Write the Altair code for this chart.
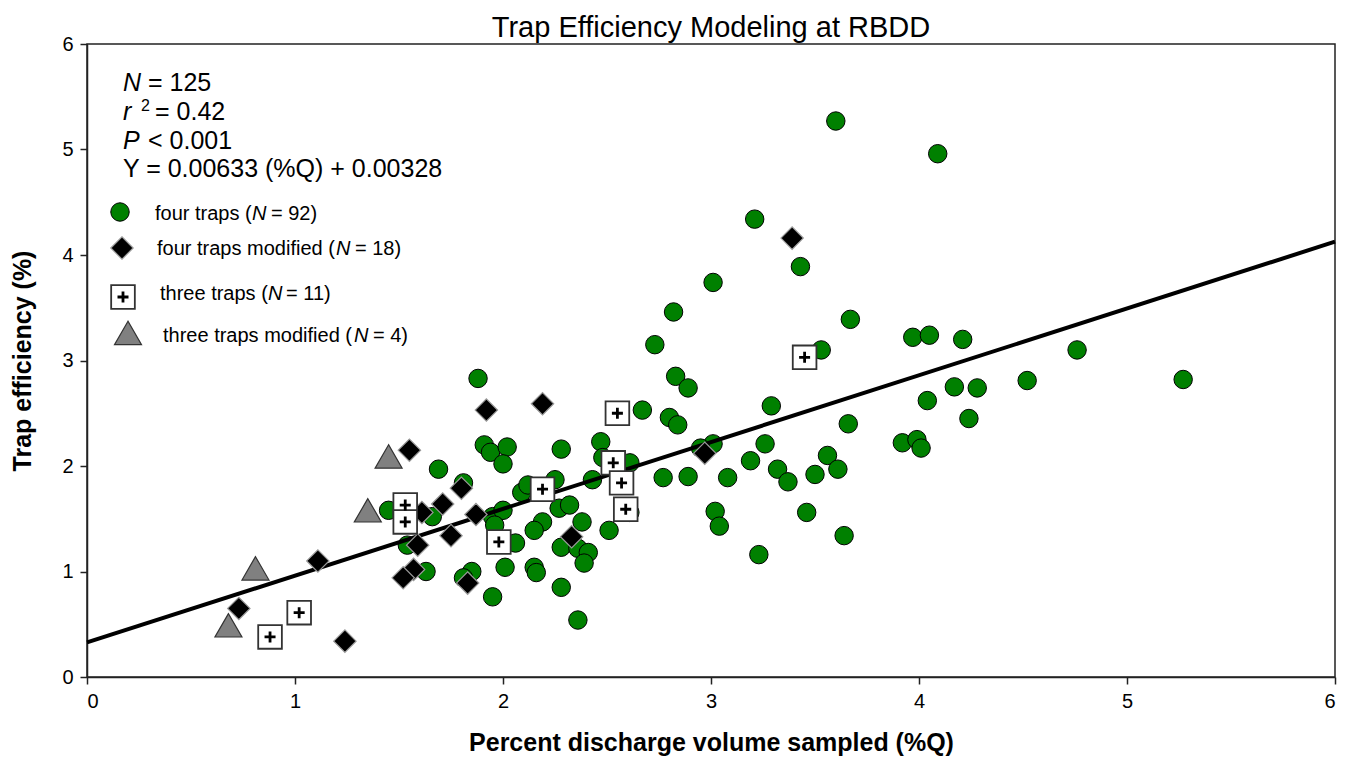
import altair as alt
import pandas as pd

FONT = "Liberation Sans"

# Percent discharge volume sampled (%Q) and trap efficiency (%) by configuration
four_x = [3.60, 4.09, 3.21, 3.43, 3.01, 2.82, 3.67, 2.73, 3.97, 4.05, 4.21, 3.53,
          2.83, 2.89, 2.67, 2.80, 2.84, 3.29, 4.17, 4.28, 4.04, 4.24, 3.66, 3.01,
          3.92, 3.99, 4.01, 3.26, 3.19, 3.32, 3.37, 3.56, 3.61, 3.50, 2.77, 2.89,
          3.08, 3.02, 3.04, 3.46, 3.64, 3.23, 4.76, 5.27, 4.52, 1.88, 1.91, 1.94,
          2.02, 2.00, 1.69, 1.81, 1.45, 1.66, 2.09, 2.12, 1.95, 2.00, 1.96, 2.28,
          2.47, 2.48, 2.61, 2.25, 2.43, 2.27, 2.32, 2.19, 2.15, 2.38, 2.51, 2.61,
          1.54, 1.63, 1.85, 1.81, 2.01, 2.06, 1.95, 2.28, 2.36, 2.41, 2.39, 2.15,
          2.16, 2.28, 2.36, 2.95]
four_y = [5.27, 4.96, 4.34, 3.89, 3.74, 3.46, 3.39, 3.15, 3.22, 3.24, 3.20, 3.10,
          2.85, 2.74, 2.53, 2.46, 2.39, 2.57, 2.75, 2.74, 2.62, 2.45, 2.40, 2.21,
          2.22, 2.25, 2.17, 2.21, 2.05, 1.97, 1.85, 2.10, 1.97, 1.92, 1.89, 1.90,
          1.89, 1.57, 1.43, 1.56, 1.34, 1.16, 3.10, 2.82, 2.81, 2.83, 2.20, 2.13,
          2.18, 2.02, 1.97, 1.84, 1.58, 1.52, 1.75, 1.82, 1.52, 1.58, 1.44, 2.16,
          2.23, 2.08, 2.03, 1.87, 1.87, 1.60, 1.63, 1.47, 1.39, 1.47, 1.39, 1.56,
          1.25, 1.00, 1.00, 0.94, 1.04, 1.27, 0.76, 1.23, 1.22, 1.18, 1.08, 1.04,
          0.99, 0.85, 0.54, 2.17]

four_mod_x = [0.73, 1.11, 1.24, 1.92, 2.19, 1.55, 1.80, 1.71, 1.61, 1.87, 1.75,
              1.59, 1.57, 1.52, 1.83, 2.33, 2.97, 3.39]
four_mod_y = [0.65, 1.10, 0.34, 2.53, 2.59, 2.15, 1.79, 1.64, 1.56, 1.54, 1.34,
              1.25, 1.02, 0.94, 0.89, 1.33, 2.12, 4.16]

three_x = [0.88, 1.02, 1.53, 1.53, 2.19, 1.98, 2.55, 2.53, 2.57, 2.59, 3.45]
three_y = [0.38, 0.61, 1.63, 1.47, 1.78, 1.28, 2.50, 2.03, 1.84, 1.59, 3.03]

three_mod_x = [0.68, 0.81, 1.35, 1.45]
three_mod_y = [0.49, 1.03, 1.58, 2.09]

# Fitted model, expressed as fractions: Y = 0.00633 (%Q) + 0.00328
SLOPE_FRAC = 0.00633
INTERCEPT_FRAC = 0.00328
fit_x = [0, 6]

four = pd.DataFrame({"q": four_x, "eff": four_y})
four_mod = pd.DataFrame({"q": four_mod_x, "eff": four_mod_y})
three = pd.DataFrame({"q": three_x, "eff": three_y})
three_mod = pd.DataFrame({"q": three_mod_x, "eff": three_mod_y})
# efficiency in percent: eff = 0.633 * q + 0.328
fit = pd.DataFrame({"q": fit_x,
                    "eff": [100 * SLOPE_FRAC * v + 100 * INTERCEPT_FRAC for v in fit_x]})

W, H = 1248, 633
ticks = [i * 0.5 for i in range(13)]
label_expr = "datum.value % 1 === 0 ? datum.label : ''"

xenc = alt.X("q:Q", scale=alt.Scale(domain=[0, 6], nice=False),
             axis=alt.Axis(values=ticks, labelExpr=label_expr, format="d",
                           title="Percent discharge volume sampled (%Q)",
                           titlePadding=19))
yenc = alt.Y("eff:Q", scale=alt.Scale(domain=[0, 6], nice=False),
             axis=alt.Axis(values=ticks, labelExpr=label_expr, format="d",
                           title="Trap efficiency (%)", titlePadding=26))

circles = alt.Chart(four).mark_point(
    shape="circle", filled=True, fill="#008000", stroke="black",
    strokeWidth=1, size=340, opacity=1
).encode(x=xenc, y=yenc)

line = alt.Chart(fit).mark_line(color="black", strokeWidth=4).encode(x="q:Q", y="eff:Q")

diamonds = alt.Chart(four_mod).mark_point(
    shape="diamond", filled=True, fill="black", stroke="#9a9a9a",
    strokeWidth=1.2, size=500, opacity=1
).encode(x="q:Q", y="eff:Q")

squares = alt.Chart(three).mark_point(
    shape="square", filled=True, fill="white", stroke="#333333",
    strokeWidth=1.8, size=560, opacity=1
).encode(x="q:Q", y="eff:Q")

PLUS = "M-1,0L1,0M0,-1L0,1"
plus = alt.Chart(three).mark_point(
    shape=PLUS, filled=False, stroke="black", strokeWidth=2.8, size=121, opacity=1
).encode(x="q:Q", y="eff:Q")

triangles = alt.Chart(three_mod).mark_point(
    shape="triangle-up", filled=True, fill="#808080", stroke="#333333",
    strokeWidth=1.2, size=729, opacity=1
).encode(x="q:Q", y="eff:Q")

one = pd.DataFrame({"k": [0]})


def text(txt, px, py, size, style="normal", weight="normal", align="left"):
    return alt.Chart(one).mark_text(
        text=txt, align=align, baseline="alphabetic", font=FONT,
        fontSize=size, fontStyle=style, fontWeight=weight, color="black"
    ).encode(x=alt.value(px), y=alt.value(py))


def symbol(px, py, **kw):
    return alt.Chart(one).mark_point(opacity=1, **kw).encode(
        x=alt.value(px), y=alt.value(py))


# Title above the plot
title = text("Trap Efficiency Modeling at RBDD", W / 2, -7, 29, align="center")

# Regression statistics
S = 25
stats = [
    text("N", 36, 47, S, "italic"),
    text("= 125", 61, 47, S),
    text("r", 36, 76, S, "italic"),
    text("2", 54, 67, 16),
    text("= 0.42", 68, 76, S),
    text("P", 36, 105, S, "italic"),
    text("< 0.001", 61, 105, S),
    text("Y = 0.00633 (%Q) + 0.00328", 36, 133, S),
]

# Legend
L = 20
legend = [
    symbol(33, 168, shape="circle", filled=True, fill="#008000", stroke="black",
           strokeWidth=1, size=340),
    text("four traps (", 68, 176, L),
    text("N", 165, 176, L, "italic"),
    text("= 92)", 184, 176, L),
    symbol(35, 204, shape="diamond", filled=True, fill="black", stroke="#9a9a9a",
           strokeWidth=1.2, size=500),
    text("four traps modified (", 70, 211, L),
    text("N", 249, 211, L, "italic"),
    text("= 18)", 268, 211, L),
    symbol(36, 253, shape="square", filled=True, fill="white", stroke="#333333",
           strokeWidth=1.8, size=560),
    symbol(36, 253, shape=PLUS, filled=False, stroke="black", strokeWidth=2.8, size=121),
    text("three traps (", 73, 256, L),
    text("N", 181, 256, L, "italic"),
    text("= 11)", 199, 256, L),
    symbol(41, 289, shape="triangle-up", filled=True, fill="#808080", stroke="#333333",
           strokeWidth=1.2, size=729),
    text("three traps modified (", 76, 298, L),
    text("N", 267, 298, L, "italic"),
    text("= 4)", 286, 298, L),
]

chart = alt.layer(
    circles, line, diamonds, squares, plus, triangles, title, *stats, *legend
).properties(
    width=W, height=H,
    autosize=alt.AutoSizeParams(type="none"),
    padding={"left": 87, "top": 44, "right": 16, "bottom": 84},
    background="white",
).configure_view(
    stroke="#222222", strokeWidth=1.5
).configure_axis(
    grid=False, domainColor="#222222", domainWidth=1.5, tickColor="#222222",
    tickWidth=1.5, tickSize=7, labelFont=FONT, labelFontSize=20,
    labelColor="black", labelPadding=7, titleFont=FONT, titleFontSize=25,
    titleFontWeight="bold", titleColor="black"
)

chart.save("out.html", embed_options={"renderer": "svg", "actions": False})
